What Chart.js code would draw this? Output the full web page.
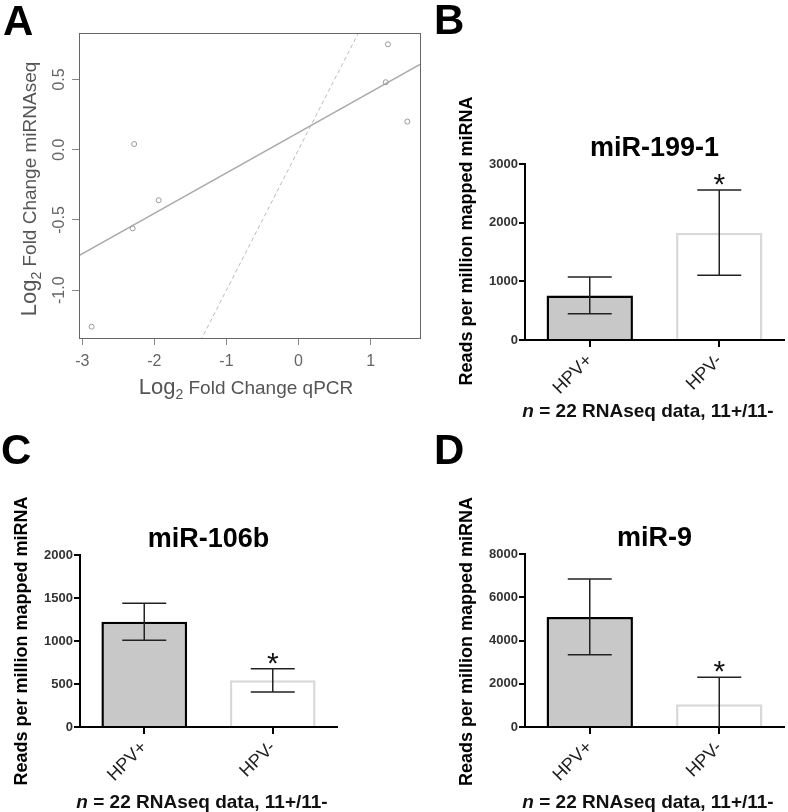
<!DOCTYPE html>
<html>
<head>
<meta charset="utf-8">
<script src="https://cdn.jsdelivr.net/npm/chart.js@4.4.1/dist/chart.umd.min.js"></script>
<style>
body { margin: 0; background: #fff; }
#wrap { position: relative; width: 788px; height: 812px; overflow: hidden; font-family: 'Liberation Sans', Arial, sans-serif; }
canvas { position: absolute; }
.letter { position: absolute; font-weight: bold; font-size: 42px; line-height: 42px; color: #000; }
.cap { position: absolute; width: 300px; text-align: center; font-weight: bold; font-size: 19px; line-height: 19px; color: #111; white-space: nowrap; }
.atitle { position: absolute; color: #555; font-size: 19px; line-height: 20px; white-space: nowrap; }
.atitle .big { font-size: 22px; line-height: 0; }
.atitle sub { font-size: 14px; line-height: 0; vertical-align: -5px; }
</style>
</head>
<body>
<div id="wrap">
  <canvas id="chartA" width="430" height="400" style="left:0;top:0"></canvas>
  <canvas id="chartB" width="388" height="400" style="left:400px;top:0"></canvas>
  <canvas id="chartC" width="400" height="412" style="left:0;top:400px"></canvas>
  <canvas id="chartD" width="388" height="412" style="left:400px;top:400px"></canvas>

  <div class="letter" style="left:3px;top:0px">A</div>
  <div class="letter" style="left:434px;top:-1px">B</div>
  <div class="letter" style="left:1px;top:429px">C</div>
  <div class="letter" style="left:434px;top:429px">D</div>

  <div class="atitle" style="left:246px;top:378px;transform:translateX(-50%)"><span class="big">Log</span><sub>2</sub> Fold Change qPCR</div>
  <div class="atitle" style="left:30px;top:189px;transform:translate(-50%,-50%) rotate(-90deg)"><span class="big">Log</span><sub>2</sub> Fold Change miRNAseq</div>

  <div class="cap" style="left:498px;top:401px"><i>n</i> = 22 RNAseq data, 11+/11-</div>
  <div class="cap" style="left:52px;top:792px"><i>n</i> = 22 RNAseq data, 11+/11-</div>
  <div class="cap" style="left:498px;top:792px"><i>n</i> = 22 RNAseq data, 11+/11-</div>
</div>
<script>
// panel A: log2 fold change, qPCR vs miRNAseq
const qpcrFC = [1.24, 1.21, 1.51, -2.28, -1.94, -2.30, -2.87];
const seqFC = [0.75, 0.48, 0.20, 0.04, -0.36, -0.56, -1.26];
const xTicksA = [-3, -2, -1, 0, 1];
const yTicksA = [-1.0, -0.5, 0.0, 0.5];

// panels B-D: reads per million mapped miRNA (mean, error)
const groups = ['HPV+', 'HPV-'];
const mir199Mean = [760, 1830];
const mir199Err = [312, 725];
const mir106bMean = [1225, 543];
const mir106bErr = [215, 135];
const mir9Mean = [5090, 1050];
const mir9Err = [1750, 1255];
const sigStars = [false, true];

const FONT = "'Liberation Sans', Arial, sans-serif";
Chart.defaults.font.family = FONT;

// least squares fit and R-like axis limits
const n = qpcrFC.length;
const mx = qpcrFC.reduce((a, b) => a + b, 0) / n;
const my = seqFC.reduce((a, b) => a + b, 0) / n;
let sxy = 0, sxx = 0;
qpcrFC.forEach((x, i) => { sxy += (x - mx) * (seqFC[i] - my); sxx += (x - mx) * (x - mx); });
const slope = sxy / sxx;
const intercept = my - slope * mx;
function rlim(v) {
  const lo = Math.min(...v), hi = Math.max(...v), d = (hi - lo) * 0.04;
  return [lo - d, hi + d];
}
const [xMinA, xMaxA] = rlim(qpcrFC);
const [yMinA, yMaxA] = rlim(seqFC);

const boxPlugin = {
  id: 'boxA',
  afterDraw(chart) {
    const { ctx, chartArea: a, scales: { y } } = chart;
    ctx.save();
    ctx.strokeStyle = '#666';
    ctx.lineWidth = 1;
    ctx.strokeRect(a.left + 0.5, a.top + 0.5, a.right - a.left, a.bottom - a.top);
    // rotated y tick labels like R
    ctx.fillStyle = '#666';
    ctx.font = '16px ' + FONT;
    ctx.textAlign = 'center';
    ctx.textBaseline = 'middle';
    y.ticks.forEach(t => {
      ctx.save();
      ctx.translate(a.left - 19, y.getPixelForValue(t.value));
      ctx.rotate(-Math.PI / 2);
      ctx.fillText(t.value.toFixed(1), 0, 0);
      ctx.restore();
    });
    ctx.restore();
  }
};

new Chart(document.getElementById('chartA'), {
  type: 'scatter',
  data: {
    datasets: [
      {
        data: qpcrFC.map((x, i) => ({ x: x, y: seqFC[i] })),
        pointRadius: 2.5,
        pointBackgroundColor: 'rgba(0,0,0,0)',
        pointBorderColor: '#999',
        pointBorderWidth: 1
      },
      {
        type: 'line',
        data: [{ x: xMinA, y: intercept + slope * xMinA }, { x: xMaxA, y: intercept + slope * xMaxA }],
        borderColor: '#aaa',
        borderWidth: 1.5,
        pointRadius: 0,
        clip: 0
      },
      {
        type: 'line',
        data: [{ x: xMinA, y: xMinA }, { x: xMaxA, y: xMaxA }],
        borderColor: '#bbb',
        borderWidth: 1,
        borderDash: [4, 3],
        pointRadius: 0,
        clip: 0
      }
    ]
  },
  options: {
    responsive: false,
    animation: false,
    layout: { padding: { left: 72, top: 33, right: 10, bottom: 22 } },
    plugins: { legend: { display: false }, tooltip: { enabled: false } },
    scales: {
      x: {
        type: 'linear', min: xMinA, max: xMaxA,
        afterBuildTicks: s => { s.ticks = xTicksA.map(v => ({ value: v })); },
        afterFit: s => { s.height = 40; },
        grid: { drawOnChartArea: false, tickLength: 7, color: '#888' },
        border: { display: false },
        ticks: { color: '#666', font: { size: 16 }, padding: 7, callback: v => String(v) }
      },
      y: {
        type: 'linear', min: yMinA, max: yMaxA,
        afterBuildTicks: s => { s.ticks = yTicksA.map(v => ({ value: v })); },
        afterFit: s => { s.width = 7; },
        grid: { drawOnChartArea: false, tickLength: 7, color: '#888' },
        border: { display: false },
        ticks: { display: false }
      }
    }
  },
  plugins: [boxPlugin]
});

function barDecor(title, means, errs, yTitleShift) {
  return {
    id: 'barDecor',
    afterDatasetsDraw(chart) {
      const { ctx, chartArea: a, scales: { x, y } } = chart;
      ctx.save();
      ctx.strokeStyle = '#222';
      ctx.lineWidth = 1.5;
      ctx.fillStyle = '#111';
      means.forEach((m, i) => {
        const px = x.getPixelForValue(i);
        const top = y.getPixelForValue(m + errs[i]);
        const lowVal = m - errs[i];
        const bot = y.getPixelForValue(Math.max(lowVal, 0));
        ctx.beginPath();
        ctx.moveTo(px, top); ctx.lineTo(px, bot);
        ctx.moveTo(px - 22, top); ctx.lineTo(px + 22, top);
        if (lowVal > 0) { ctx.moveTo(px - 22, bot); ctx.lineTo(px + 22, bot); }
        ctx.stroke();
        if (sigStars[i]) {
          ctx.font = '30px ' + FONT;
          ctx.textAlign = 'center';
          ctx.textBaseline = 'alphabetic';
          ctx.fillText('*', px, top + 4);
        }
      });
      ctx.fillStyle = '#000';
      ctx.font = 'bold 27px ' + FONT;
      ctx.textAlign = 'center';
      ctx.textBaseline = 'alphabetic';
      ctx.fillText(title, (a.left + a.right) / 2, a.top - 8);
      ctx.translate(a.left - 58, (a.top + a.bottom) / 2 + yTitleShift);
      ctx.rotate(-Math.PI / 2);
      ctx.font = 'bold 18px ' + FONT;
      ctx.textBaseline = 'middle';
      ctx.fillText('Reads per million mapped miRNA', 0, 0);
      ctx.restore();
    }
  };
}

function barChart(id, title, means, errs, yMax, yStep, pad, yTitleShift) {
  new Chart(document.getElementById(id), {
    type: 'bar',
    data: {
      labels: groups,
      datasets: [{
        data: means,
        backgroundColor: ['#c8c8c8', '#ffffff'],
        borderColor: ['#000000', '#d9d9d9'],
        borderWidth: 2.5,
        borderSkipped: 'bottom',
        barPercentage: 0.667,
        categoryPercentage: 1
      }]
    },
    options: {
      responsive: false,
      animation: false,
      layout: { padding: pad },
      plugins: { legend: { display: false }, tooltip: { enabled: false } },
      scales: {
        x: {
          afterFit: s => { s.height = 60; },
          grid: { offset: false, drawOnChartArea: false, tickLength: 7, color: '#000', lineWidth: 2 },
          border: { color: '#000', width: 2 },
          ticks: { color: '#222', font: { size: 18 }, minRotation: 45, maxRotation: 45, padding: 3 }
        },
        y: {
          min: 0, max: yMax,
          afterFit: s => { s.width = 40; },
          grid: { drawOnChartArea: false, tickLength: 6, color: '#000', lineWidth: 2 },
          border: { color: '#000', width: 2 },
          ticks: { stepSize: yStep, color: '#333', font: { size: 13, weight: 'bold' }, padding: 1, callback: v => String(v) }
        }
      }
    },
    plugins: [barDecor(title, means, errs, yTitleShift)]
  });
}

barChart('chartB', 'miR-199-1', mir199Mean, mir199Err, 3000, 1000, { left: 85, top: 164, right: 4, bottom: 0 }, -11);
barChart('chartC', 'miR-106b', mir106bMean, mir106bErr, 2000, 500, { left: 40, top: 155, right: 63, bottom: 25 }, 0);
barChart('chartD', 'miR-9', mir9Mean, mir9Err, 8000, 2000, { left: 85, top: 154, right: 4, bottom: 25 }, 1);
</script>
</body>
</html>
